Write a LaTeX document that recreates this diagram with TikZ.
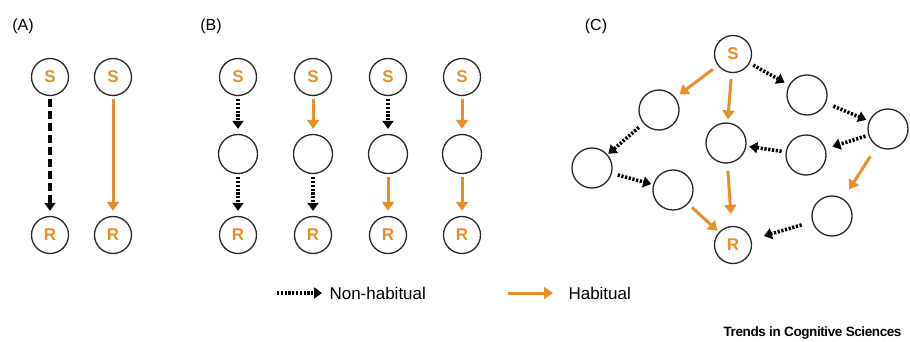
\documentclass[tikz,border=0pt]{standalone}
\usepackage{fontspec}
\setmainfont{Liberation Sans}
\usetikzlibrary{arrows.meta}
\definecolor{hab}{RGB}{232,143,44}
\definecolor{ring}{RGB}{40,40,40}
\tikzset{
  state/.style={circle, draw=ring, line width=1.3pt, minimum size=37pt, inner sep=0pt,
    text=hab, font=\fontsize{17}{17}\selectfont\bfseries},
  blank/.style={state, minimum size=39pt},
  habit/.style={draw=hab, line width=3pt, -{Triangle[width=12pt,length=9pt]},
    shorten <=3pt, shorten >=5pt},
  nonhab/.style={draw=black, line width=3.6pt, dash pattern=on 2.2pt off 1.6pt,
    -{Triangle[width=11pt,length=8pt]}, shorten <=3pt, shorten >=5pt},
  coarse/.style={nonhab, dash pattern=on 7.5pt off 4.5pt},
  gap/.style 2 args={shorten <=#1pt, shorten >=#2pt},
  panel/.style={font=\fontsize{16}{16}\selectfont},
  legend/.style={font=\fontsize{17}{17}\selectfont, anchor=west},
}
\begin{document}
\begin{tikzpicture}[x=1pt, y=-1pt]
\useasboundingbox (0,0) rectangle (910,342);

% panel labels
\node[panel] (la) at (23,26) {(A)};
\node[panel] (lb) at (211,26) {(B)};
\node[panel] (lc) at (596,26) {(C)};

% (A) direct stimulus-response links
\node[state] (aS1) at (50,77) {S};
\node[state] (aR1) at (50,235) {R};
\node[state] (aS2) at (113,77) {S};
\node[state] (aR2) at (113,235) {R};
\draw[coarse] (aS1) -- (aR1);
\draw[habit] (aS2) -- (aR2);

% (B) two-step chains
\foreach \i/\x in {1/238,2/313,3/388,4/462}{
  \node[state] (bS\i) at (\x,77) {S};
  \node[blank] (bM\i) at (\x,154) {};
  \node[state] (bR\i) at (\x,235) {R};
}
\draw[nonhab] (bS1) -- (bM1);
\draw[nonhab] (bM1) -- (bR1);
\draw[habit]  (bS2) -- (bM2);
\draw[nonhab] (bM2) -- (bR2);
\draw[nonhab] (bS3) -- (bM3);
\draw[habit]  (bM3) -- (bR3);
\draw[habit]  (bS4) -- (bM4);
\draw[habit]  (bM4) -- (bR4);

% (C) network of intermediate states
\node[state] (cS) at (733,54) {S};
\node[state] (cR) at (733,245) {R};
\node[blank, minimum size=40pt] (c1) at (659,110) {};
\node[blank, minimum size=40pt] (c2) at (592,168) {};
\node[blank, minimum size=40pt] (c3) at (673,190) {};
\node[blank, minimum size=40pt] (cm) at (726,143) {};
\node[blank, minimum size=40pt] (d1) at (807,95) {};
\node[blank, minimum size=40pt] (d2) at (888,129) {};
\node[blank, minimum size=40pt] (d3) at (806,155) {};
\node[blank, minimum size=40pt] (d4) at (832,216) {};

\draw[habit, gap={6}{5}]   (cS) -- (c1);
\draw[habit, gap={6}{3}]   (cS) -- (cm);
\draw[nonhab, gap={4}{5}]  (cS) -- (d1);
\draw[nonhab, gap={8}{3}]  (d1) -- (d2);
\draw[nonhab, gap={3}{7}]  (d2) -- (d3);
\draw[nonhab, gap={4}{3}]  (d3) -- (cm);
\draw[habit, gap={12}{11}] (d2) -- (d4);
\draw[nonhab, gap={11}{13}] (d4) -- (cR);
\draw[nonhab, gap={6}{1}]  (c1) -- (c2);
\draw[nonhab, gap={6}{2}]  (c2) -- (c3);
\draw[habit, gap={5}{2}]   (c3) -- (cR);
\draw[habit, gap={7}{12}]  (cm) -- (cR);

% legend
\coordinate (k1a) at (277,293);
\coordinate (k1b) at (322,293);
\coordinate (k2a) at (508,293);
\coordinate (k2b) at (553,293);
\draw[nonhab, line width=3.2pt, gap={0}{0}] (k1a) -- (k1b);
\draw[habit, gap={0}{0}] (k2a) -- (k2b);
\node[legend] (t1) at (326,293) {Non-habitual};
\node[legend] (t2) at (565,293) {Habitual};

% journal mark
\node[anchor=east, font=\fontsize{13.5}{13.5}\selectfont\bfseries] (jm) at (905,333)
  {\addfontfeatures{LetterSpace=-3}Trends in Cognitive Sciences};
\end{tikzpicture}
\end{document}
